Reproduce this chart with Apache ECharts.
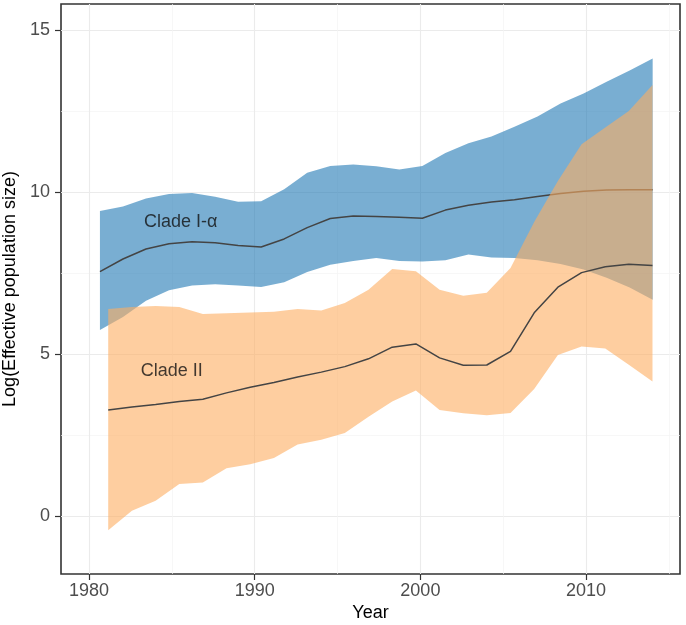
<!DOCTYPE html>
<html><head><meta charset="utf-8">
<script src="https://cdn.jsdelivr.net/npm/echarts@6/dist/echarts.min.js"></script>
<style>html,body{margin:0;padding:0;background:#fff}#c{width:686px;height:625px}</style>
</head><body><div id="c"></div>
<script>
// Clade I-alpha
const yearsI = [1980.66, 1982.05, 1983.44, 1984.83, 1986.22, 1987.61, 1989.00, 1990.39, 1991.78, 1993.17, 1994.56, 1995.95, 1997.34, 1998.73, 2000.12, 2001.51, 2002.90, 2004.29, 2005.68, 2007.07, 2008.46, 2009.85, 2011.24, 2012.63, 2014.02];
const medianI = [7.54, 7.93, 8.24, 8.40, 8.46, 8.43, 8.35, 8.30, 8.55, 8.90, 9.18, 9.26, 9.24, 9.22, 9.19, 9.44, 9.59, 9.69, 9.76, 9.86, 9.95, 10.02, 10.06, 10.07, 10.07];
const upperI = [9.41, 9.55, 9.80, 9.94, 9.97, 9.85, 9.70, 9.71, 10.08, 10.59, 10.80, 10.85, 10.79, 10.69, 10.80, 11.20, 11.50, 11.71, 12.01, 12.33, 12.73, 13.04, 13.40, 13.75, 14.12];
const lowerI = [5.74, 6.14, 6.64, 6.97, 7.11, 7.15, 7.11, 7.07, 7.21, 7.53, 7.75, 7.87, 7.96, 7.87, 7.85, 7.89, 8.07, 7.98, 7.96, 7.89, 7.78, 7.61, 7.35, 7.05, 6.67];
// Clade II
const yearsII = [1981.16, 1982.59, 1984.02, 1985.45, 1986.87, 1988.30, 1989.73, 1991.16, 1992.59, 1994.02, 1995.44, 1996.87, 1998.30, 1999.73, 2001.16, 2002.59, 2004.01, 2005.44, 2006.87, 2008.30, 2009.73, 2011.16, 2012.58, 2014.01];
const medianII = [3.27, 3.36, 3.44, 3.53, 3.60, 3.80, 3.97, 4.12, 4.29, 4.44, 4.61, 4.85, 5.21, 5.31, 4.88, 4.65, 4.66, 5.08, 6.27, 7.06, 7.51, 7.69, 7.77, 7.73];
const upperII = [6.39, 6.45, 6.48, 6.45, 6.23, 6.26, 6.28, 6.30, 6.39, 6.34, 6.57, 6.98, 7.62, 7.55, 6.98, 6.80, 6.89, 7.65, 9.07, 10.34, 11.47, 11.99, 12.50, 13.30];
const lowerII = [-0.44, 0.16, 0.47, 0.99, 1.03, 1.47, 1.60, 1.79, 2.21, 2.35, 2.56, 3.06, 3.53, 3.87, 3.27, 3.17, 3.11, 3.18, 3.92, 4.97, 5.23, 5.17, 4.67, 4.15];
// ticks
const xTicks = [1980, 1990, 2000, 2010];
const xMinor = [1985, 1995, 2005, 2015];
const yTicks = [0, 5, 10, 15];
const yMinor = [2.5, 7.5, 12.5];
// annotations
const annoNames = ['Clade I-α', 'Clade II'];
const annoX = [1985.54, 1984.99];
const annoY = [9.07, 4.48];
const xTitle = 'Year';
const yTitle = 'Log(Effective population size)';

const FONT = '"Liberation Sans", Arial, Helvetica, sans-serif';
const XMIN = 1978.31, XMAX = 2015.67, YMIN = -1.79, YMAX = 15.80;
const pairs = (xs, ys) => xs.map((x, i) => [x, ys[i]]);

const majorLine = { show: true, lineStyle: { color: '#ebebeb', width: 1.1 } };
const minorLine = { show: true, lineStyle: { color: '#f3f3f3', width: 0.7 } };

function axisX(ticks, split, showLbl) {
  return {
    type: 'value', gridIndex: 0, min: XMIN, max: XMAX, position: 'bottom',
    axisLine: { show: false, onZero: false },
    axisTick: { show: showLbl, customValues: ticks, length: 6, lineStyle: { color: '#333', width: 1.2 } },
    axisLabel: { show: showLbl, customValues: ticks, margin: 8, color: '#4d4d4d', fontSize: 18, fontFamily: FONT, formatter: v => String(v) },
    splitLine: split
  };
}
function axisY(ticks, split, showLbl) {
  return {
    type: 'value', gridIndex: 0, min: YMIN, max: YMAX, position: 'left',
    axisLine: { show: false, onZero: false },
    axisTick: { show: showLbl, customValues: ticks, length: 6, lineStyle: { color: '#333', width: 1.2 } },
    axisLabel: { show: showLbl, customValues: ticks, margin: 11, color: '#4d4d4d', fontSize: 18, fontFamily: FONT, formatter: v => String(v) },
    splitLine: split
  };
}

function band(xs, lo, hi, color, z) {
  return {
    type: 'custom', z: z, silent: true, clip: true,
    data: xs.map((x, i) => [x, lo[i], hi[i]]),
    encode: { x: 0, y: [1, 2] },
    renderItem: function (params, api) {
      if (params.dataIndex !== 0) return null;
      const pts = [];
      for (let i = 0; i < xs.length; i++) pts.push(api.coord([xs[i], hi[i]]));
      for (let i = xs.length - 1; i >= 0; i--) pts.push(api.coord([xs[i], lo[i]]));
      return { type: 'polygon', shape: { points: pts }, style: { fill: color, opacity: 0.6 } };
    }
  };
}

const chart = echarts.init(document.getElementById('c'), null, { renderer: 'canvas' });
chart.setOption({
  animation: false,
  backgroundColor: '#fff',
  grid: { left: 61, top: 4, width: 619, height: 570, show: true, borderColor: '#333', borderWidth: 1.6, backgroundColor: 'transparent' },
  xAxis: [axisX(xTicks, majorLine, true), axisX(xMinor, minorLine, false)],
  yAxis: [axisY(yTicks, majorLine, true), axisY(yMinor, minorLine, false)],
  series: [
    band(yearsI, lowerI, upperI, '#1F78B4', 2),
    { type: 'line', data: pairs(yearsI, medianI), symbol: 'none', lineStyle: { color: '#444', width: 1.5 }, silent: true, z: 3 },
    band(yearsII, lowerII, upperII, '#FDAE61', 4),
    { type: 'line', data: pairs(yearsII, medianII), symbol: 'none', lineStyle: { color: '#444', width: 1.5 }, silent: true, z: 5 },
    { type: 'scatter', z: 6, symbolSize: 1, itemStyle: { color: 'rgba(0,0,0,0)' }, silent: true,
      data: annoNames.map((n, i) => ({ name: n, value: [annoX[i], annoY[i]] })),
      label: { show: true, position: 'inside', formatter: '{b}', color: '#111', fontSize: 18, fontFamily: FONT } }
  ],
  graphic: [
    { type: 'text', x: 370.5, y: 613.5, style: { text: xTitle, fill: '#000', font: '18px ' + FONT, align: 'center', verticalAlign: 'middle', textAlign: 'center', textVerticalAlign: 'middle' } },
    { type: 'text', x: 10.5, y: 289, rotation: Math.PI / 2, style: { text: yTitle, fill: '#000', font: '18px ' + FONT, align: 'center', verticalAlign: 'middle', textAlign: 'center', textVerticalAlign: 'middle' } }
  ]
});
</script></body></html>
